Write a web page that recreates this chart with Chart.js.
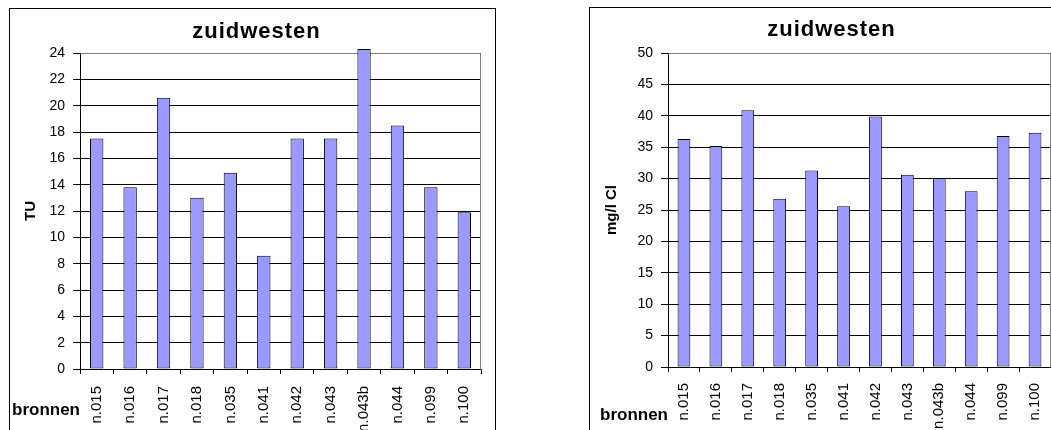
<!DOCTYPE html>
<html>
<head>
<meta charset="utf-8">
<script src="https://cdn.jsdelivr.net/npm/chart.js@4/dist/chart.umd.min.js"></script>
<style>
  html, body { margin: 0; padding: 0; background: #fff; overflow: hidden; width: 1051px; height: 430px; }
  .box { position: absolute; border: 1px solid #000; background: #fff; }
  #boxTU { left: 9px; top: 8px; width: 485px; height: 440px; }
  #boxCl { left: 589px; top: 7px; width: 485px; height: 440px; }
  canvas { display: block; }
</style>
</head>
<body>
<div class="box" id="boxTU"><canvas id="tu" width="485" height="421"></canvas></div>
<div class="box" id="boxCl"><canvas id="cl" width="485" height="422"></canvas></div>
<script>
// wells (bronnen) in the south-west
const bronnen = ['n.015', 'n.016', 'n.017', 'n.018', 'n.035', 'n.041', 'n.042', 'n.043', 'n.043b', 'n.044', 'n.099', 'n.100'];
// tritium, TU
const tritium = [17.5, 13.8, 20.6, 13.0, 14.9, 8.6, 17.5, 17.5, 24.3, 18.5, 13.8, 11.9];
// chloride, mg/l Cl
const chloride = [36.3, 35.2, 40.9, 26.8, 31.3, 25.6, 39.9, 30.6, 30.1, 28.0, 36.8, 37.3];

const titel = 'zuidwesten';
const xAsTitel = 'bronnen';
const tuAs = { min: 0, max: 24, step: 2, title: 'TU' };
const clAs = { min: 0, max: 50, step: 5, title: 'mg/l Cl' };

const FAMILY = '"Liberation Sans", Arial, Helvetica, sans-serif';
Chart.defaults.font.family = FAMILY;
Chart.defaults.color = '#000';

// gray plot frame (top/right), chart title and the category-axis caption
const excelFrame = {
  id: 'excelFrame',
  beforeDatasetsDraw(chart) {
    const { ctx, chartArea: a } = chart;
    ctx.save();
    ctx.strokeStyle = '#808080';
    ctx.lineWidth = 1;
    ctx.beginPath();
    ctx.moveTo(Math.round(a.left) + 0.5, Math.round(a.top) + 0.5);
    ctx.lineTo(Math.round(a.right) - 0.5, Math.round(a.top) + 0.5);
    ctx.lineTo(Math.round(a.right) - 0.5, Math.round(a.bottom) + 0.5);
    ctx.stroke();
    ctx.restore();
  },
  afterDraw(chart, args, opts) {
    const { ctx, chartArea: a } = chart;
    ctx.save();
    ctx.fillStyle = '#000';
    ctx.font = 'bold 22px ' + FAMILY;
    ctx.letterSpacing = '1px';
    ctx.textAlign = 'center';
    ctx.textBaseline = 'alphabetic';
    ctx.fillText(opts.title, chart.width / 2 + opts.titleShift, opts.titleBaseline);
    ctx.letterSpacing = '0px';
    ctx.font = 'bold 17px ' + FAMILY;
    ctx.textAlign = 'right';
    ctx.fillText(opts.xTitle, a.left, a.bottom + opts.xTitleDrop);
    ctx.restore();
  }
};

function makeChart(id, values, as, geo) {
  return new Chart(document.getElementById(id), {
    type: 'bar',
    data: {
      labels: bronnen,
      datasets: [{
        data: values,
        backgroundColor: '#9999FF',
        borderColor: '#000',
        borderWidth: 1,
        borderSkipped: false,
        barPercentage: 0.4,
        categoryPercentage: 1,
        clip: false
      }]
    },
    options: {
      responsive: false,
      animation: false,
      devicePixelRatio: 1,
      layout: { padding: { top: geo.top, right: geo.right, left: 0, bottom: 0 } },
      plugins: {
        legend: { display: false },
        tooltip: { enabled: false },
        title: { display: false },
        excelFrame: {
          title: titel,
          titleShift: geo.titleShift,
          titleBaseline: geo.titleBaseline,
          xTitle: xAsTitel,
          xTitleDrop: geo.xTitleDrop
        }
      },
      scales: {
        x: {
          ticks: { color: '#000', font: { size: 15 }, minRotation: 90, maxRotation: 90, autoSkip: false, padding: geo.xPad },
          grid: { drawOnChartArea: false, color: '#000', tickLength: 5, offset: true },
          border: { color: '#000' },
          afterFit(s) { s.height = geo.xHeight; }
        },
        y: {
          min: as.min,
          max: as.max,
          ticks: { stepSize: as.step, color: '#000', font: { size: 14 }, padding: 8 },
          grid: { color: '#000', tickLength: 7 },
          border: { color: '#000' },
          title: { display: true, text: as.title, color: '#000', font: { size: 15, weight: 'bold' }, padding: { top: geo.yTitlePad, bottom: 0 } },
          afterFit(s) { s.width = geo.yWidth; }
        }
      }
    },
    plugins: [excelFrame]
  });
}

makeChart('tu', tritium, tuAs, { top: 44, right: 14, yWidth: 70, xHeight: 61, xPad: 12, titleShift: 4, titleBaseline: 29, xTitleDrop: 46, yTitlePad: 12 });
makeChart('cl', chloride, clAs, { top: 45, right: 24, yWidth: 78, xHeight: 63, xPad: 11, titleShift: -1, titleBaseline: 28, xTitleDrop: 53, yTitlePad: 13 });
</script>
</body>
</html>
